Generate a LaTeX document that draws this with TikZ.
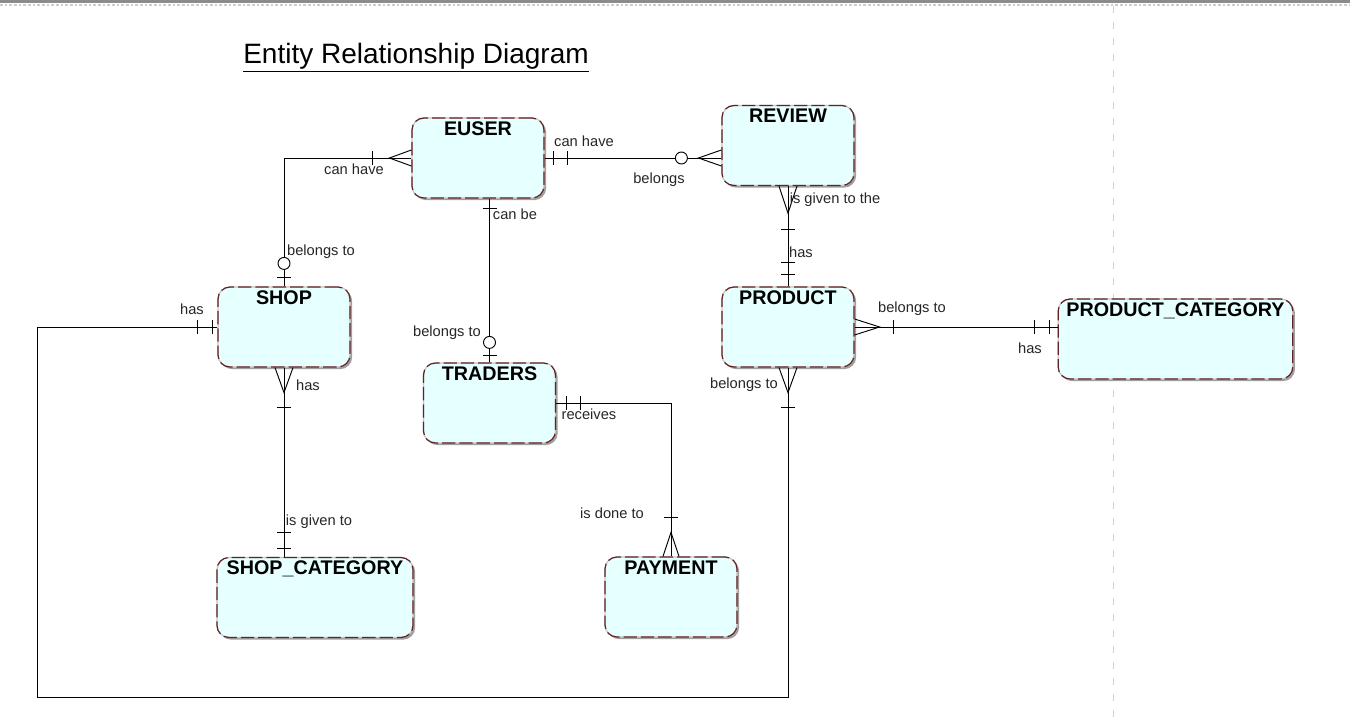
\documentclass[tikz,border=0pt]{standalone}
\usepackage{fontspec}
\setmainfont{Liberation Sans}
\usetikzlibrary{shadows}

\definecolor{entfill}{RGB}{230,255,255}
\definecolor{entline}{RGB}{100,35,35}
\definecolor{pagegray}{RGB}{140,140,140}

\begin{document}
\begin{tikzpicture}[x=0.75pt, y=-0.75pt,
    entity/.style={draw=gray!45, fill=entfill, line width=0.9pt,
      rounded corners=9pt,
      postaction={draw=entline, line width=0.9pt, dash pattern=on 10pt off 3pt},
      inner xsep=2pt, inner ysep=2pt, text height=11pt, text depth=45pt,
      minimum height=60pt, font=\fontsize{14.8}{17}\selectfont\bfseries,
      drop shadow={shadow xshift=1.6pt, shadow yshift=-1.6pt, fill=gray!75, opacity=1}},
    rel/.style={line width=0.7pt},
    opt/.style={rel, fill=white},
    lbl/.style={font=\fontsize{11}{13}\selectfont, text=black!85, inner sep=1pt}]

    \useasboundingbox (0,0) rectangle (1350,725);

    % Pagina
    \fill[pagegray] (0,0) rectangle (1350,3);
    \draw[gray!40, dash pattern=on 2pt off 1.5pt, line width=1pt] (0,5) -- (1350,5);
    \draw[gray!35, dash pattern=on 5pt off 7pt, line width=0.75pt] (1113,6) -- (1113,725);

    % Titel
    \node[font=\fontsize{21}{24}\selectfont] (diagtitle) at (416,58) {\underline{Entity Relationship Diagram}};

    % Entiteiten
    \node[entity, minimum width=99pt] (euser) at (478,158) {EUSER};
    \node[entity, minimum width=99pt] (review) at (788,145.5) {REVIEW};
    \node[entity, minimum width=99pt] (shop) at (284,327) {SHOP};
    \node[entity, minimum width=99pt] (traders) at (489.5,403) {TRADERS};
    \node[entity, minimum width=99pt] (product) at (788,327) {PRODUCT};
    \node[entity, minimum width=176pt] (pcat) at (1175.5,339) {PRODUCT\_CATEGORY};
    \node[entity, minimum width=147pt] (shopcat) at (315,597.5) {SHOP\_CATEGORY};
    \node[entity, minimum width=99pt] (payment) at (671,597) {PAYMENT};

    % EUSER - SHOP
    \draw[rel] (euser.west) -| (shop.north);
    \draw[rel] (euser.west) ++(0,-8) -- ++(-22,8) -- ++(22,8);
    \draw[rel] (euser.west) ++(-39,-7) -- ++(0,14);
    \draw[rel] (shop.north) ++(-7,-9) -- ++(14,0);
    \draw[opt] (shop.north) ++(0,-23) circle[radius=4.5pt];

    % EUSER - REVIEW
    \coordinate (revin) at (euser.east -| review.west);
    \draw[rel] (euser.east) -- (revin);
    \draw[rel] (euser.east) ++(9,-7) -- ++(0,14) ++(14,-14) -- ++(0,14);
    \draw[rel] (revin) ++(0,-8) -- ++(-23,8) -- ++(23,8);
    \draw[opt] (revin) ++(-40,0) circle[radius=4.5pt];

    % EUSER - TRADERS
    \coordinate (euout) at (euser.south -| traders.north);
    \draw[rel] (euout) -- (traders.north);
    \draw[rel] (euout) ++(-7,10) -- ++(14,0);
    \draw[rel] (traders.north) ++(-7,-7) -- ++(14,0);
    \draw[opt] (traders.north) ++(0,-20) circle[radius=4.5pt];

    % REVIEW - PRODUCT
    \draw[rel] (review.south) -- (product.north);
    \draw[rel] (review.south) ++(-9,0) -- ++(9,27) -- ++(9,-27);
    \draw[rel] (review.south) ++(-7,43) -- ++(14,0);
    \draw[rel] (product.north) ++(-7,-24) -- ++(14,0) ++(-14,12) -- ++(14,0);

    % PRODUCT - PRODUCT_CATEGORY
    \coordinate (pcin) at (product.east -| pcat.west);
    \draw[rel] (product.east) -- (pcin);
    \draw[rel] (product.east) ++(0,-8) -- ++(25,8) -- ++(-25,8);
    \draw[rel] (product.east) ++(39,-7) -- ++(0,14);
    \draw[rel] (pcin) ++(-23,-7) -- ++(0,14) ++(15,-14) -- ++(0,14);

    % SHOP - SHOP_CATEGORY
    \coordinate (scin) at (shop.south |- shopcat.north);
    \draw[rel] (shop.south) -- (scin);
    \draw[rel] (shop.south) ++(-9,0) -- ++(9,25) -- ++(9,-25);
    \draw[rel] (shop.south) ++(-7,40) -- ++(14,0);
    \draw[rel] (scin) ++(-7,-24) -- ++(14,0) ++(-14,16) -- ++(14,0);

    % TRADERS - PAYMENT
    \draw[rel] (traders.east) -| (payment.north);
    \draw[rel] (traders.east) ++(10,-7) -- ++(0,14) ++(14,-14) -- ++(0,14);
    \draw[rel] (payment.north) ++(-8,0) -- ++(8,-24) -- ++(8,24);
    \draw[rel] (payment.north) ++(-7,-39) -- ++(14,0);

    % SHOP - PRODUCT
    \coordinate (loopcorner) at (37,697);
    \draw[rel] (shop.west) -| (loopcorner) -| (product.south);
    \draw[rel] (shop.west) ++(-5,-7) -- ++(0,14) ++(-15,-14) -- ++(0,14);
    \draw[rel] (product.south) ++(-9,0) -- ++(9,25) -- ++(9,-25);
    \draw[rel] (product.south) ++(-7,40) -- ++(14,0);

    % Labels
    \node[lbl] (lcanhave1) at (354,169) {can have};
    \node[lbl] (lbelongs1) at (321,252) {belongs to};
    \node[lbl] (lcanhave2) at (584,141) {can have};
    \node[lbl] (lbelongs2) at (659,180) {belongs};
    \node[lbl] (lcanbe) at (515,214) {can be};
    \node[lbl] (lbelongs3) at (447,333) {belongs to};
    \node[lbl] (lgiventhe) at (835,200) {is given to the};
    \node[lbl] (lhas1) at (801,252) {has};
    \node[lbl] (lbelongs4) at (912,309) {belongs to};
    \node[lbl] (lhas2) at (1030,348) {has};
    \node[lbl] (lbelongs5) at (744,385) {belongs to};
    \node[lbl] (lhas3) at (192,309) {has};
    \node[lbl] (lhas4) at (308,385) {has};
    \node[lbl] (lgiven) at (319,522) {is given to};
    \node[lbl] (lreceives) at (589,414) {receives};
    \node[lbl] (ldone) at (612,513) {is done to};
\end{tikzpicture}
\end{document}
